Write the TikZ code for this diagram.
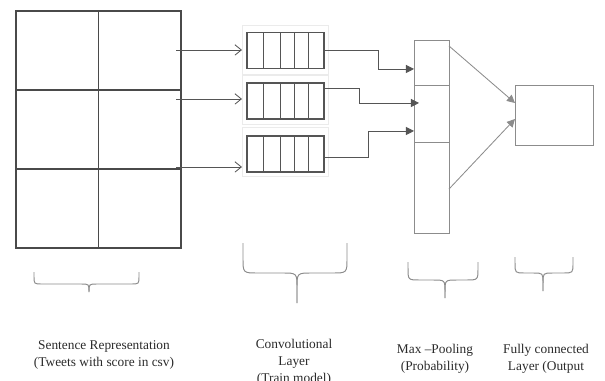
\documentclass[tikz,border=0pt]{standalone}
\usepackage{fontspec}
\setmainfont{Liberation Serif}
\usepackage{xcolor}
\definecolor{gridgray}{HTML}{4A4A4A}
\definecolor{boxgray}{HTML}{555555}
\definecolor{litegray}{HTML}{8C8C8C}
\definecolor{framegray}{HTML}{EBEBEB}
\definecolor{txtgray}{HTML}{2A2A2A}
\usepackage{tikz}
\usetikzlibrary{arrows.meta,positioning,calc}

\begin{document}
\begin{tikzpicture}[x=0.025cm,y=-0.025cm,
    gridbox/.style={draw=gridgray, line width=0.8pt, inner sep=0pt, outer sep=0pt},
    convframe/.style={draw=framegray, line width=0.6pt, inner sep=0pt, outer sep=0pt,
      minimum width=2.15cm, minimum height=1.225cm},
    convbox/.style={draw=boxgray, line width=0.8pt, inner sep=0pt, outer sep=0pt,
      minimum width=1.925cm, minimum height=0.9cm},
    litebox/.style={draw=litegray, line width=0.7pt, inner sep=0pt, outer sep=0pt},
    inarrow/.style={draw=boxgray, line width=0.6pt, -{Straight Barb[length=1.6mm,width=2.6mm]}},
    maxarrow/.style={draw=boxgray, line width=0.6pt, -{Triangle[length=2mm,width=2mm]}},
    bracestyle/.style={draw=litegray, line width=0.7pt},
    lbl/.style={font=\fontsize{9.5}{12}\selectfont\color{txtgray}, align=center, inner sep=0pt}]
  \useasboundingbox (0,0) rectangle (605,381);

  % sentence matrix
  \node[gridbox, minimum width=4.125cm, minimum height=5.925cm] (sent) at (98.5,129.5) {};
  \draw[gridgray, line width=0.8pt] (sent.north) -- (sent.south);
  \draw[gridgray, line width=0.8pt] ($(sent.north west)!1/3!(sent.south west)$) -- ($(sent.north east)!1/3!(sent.south east)$);
  \draw[gridgray, line width=0.8pt] ($(sent.north west)!2/3!(sent.south west)$) -- ($(sent.north east)!2/3!(sent.south east)$);

  % convolution filters
  \foreach \y/\yy [count=\i] in {49.5/50.5,100/101,152/154} {
    \node[convframe] (c\i f) at (285,\y) {};
    \node[convbox] (c\i) at (285.5,\yy) {};
    \foreach \f in {0.21,0.43,0.62,0.8}
      \draw[boxgray, line width=0.8pt] ($(c\i.north west)!\f!(c\i.north east)$) -- ($(c\i.south west)!\f!(c\i.south east)$);
  }

  % max pooling column
  \node[litebox, minimum width=0.875cm, minimum height=4.8cm] (pool) at (431.5,137) {};
  \draw[litegray, line width=0.7pt] ($(pool.north west)!0.234!(pool.south west)$) -- ($(pool.north east)!0.234!(pool.south east)$);
  \draw[litegray, line width=0.7pt] ($(pool.north west)!0.531!(pool.south west)$) -- ($(pool.north east)!0.531!(pool.south east)$);

  % fully connected output
  \node[litebox, minimum width=1.95cm, minimum height=1.475cm] (fc) at (554,115.5) {};

  % matrix to filters
  \foreach \dy [count=\i] in {39,88,156} {
    \coordinate (a\i) at ($(sent.north east)+(-5,\dy)$);
    \draw[inarrow] (a\i) -- (a\i -| c\i f.west);
  }

  % filters to pooling
  \draw[maxarrow] (c1.east) -- ++(54,0) |- ($(pool.north west)+(0,28)$);
  \draw[maxarrow] ($(c2.north east)+(0,5)$) -- ++(35,0) |- ($(pool.north west)+(5,62)$);
  \draw[maxarrow] ($(c3.east)+(0,3)$) -- ++(44,0) |- ($(pool.north west)+(0,90)$);

  % pooling to output
  \draw[maxarrow, draw=litegray] ($(pool.north east)+(0,5)$) -- ($(fc.west)+(0,-12.5)$);
  \draw[maxarrow, draw=litegray] ($(pool.south east)+(0,-44)$) -- ($(fc.west)+(0,3.5)$);

  % braces
  \foreach \a/\b/\t/\u/\m/\v/\r in {34/139/89/272/284/291/8, 243/347/297/243/273/303/15,
      408/478/445/262/280/298/12, 515/573/543/257/273/291/10} {
    \draw[bracestyle] (\a,\u) -- (\a,\m-\r) .. controls (\a,\m) .. (\a+\r,\m) -- (\t-\r,\m)
      .. controls (\t,\m) .. (\t,\m+\r) -- (\t,\v);
    \draw[bracestyle] (\b,\u) -- (\b,\m-\r) .. controls (\b,\m) .. (\b-\r,\m) -- (\t+\r,\m)
      .. controls (\t,\m) .. (\t,\m+\r) -- (\t,\v);
  }

  % captions
  \node[lbl] (sentlbl) at (104,355) {Sentence Representation\\(Tweets with score in csv)};
  \node[lbl] (convlbl) at (294,362.5) {Convolutional\\Layer\\(Train model)};
  \node[lbl] (poollbl) at (435,359) {Max --Pooling\\(Probability)};
  \node[lbl] (fclbl) at (546,358.5) {Fully connected\\Layer (Output};
\end{tikzpicture}
\end{document}
